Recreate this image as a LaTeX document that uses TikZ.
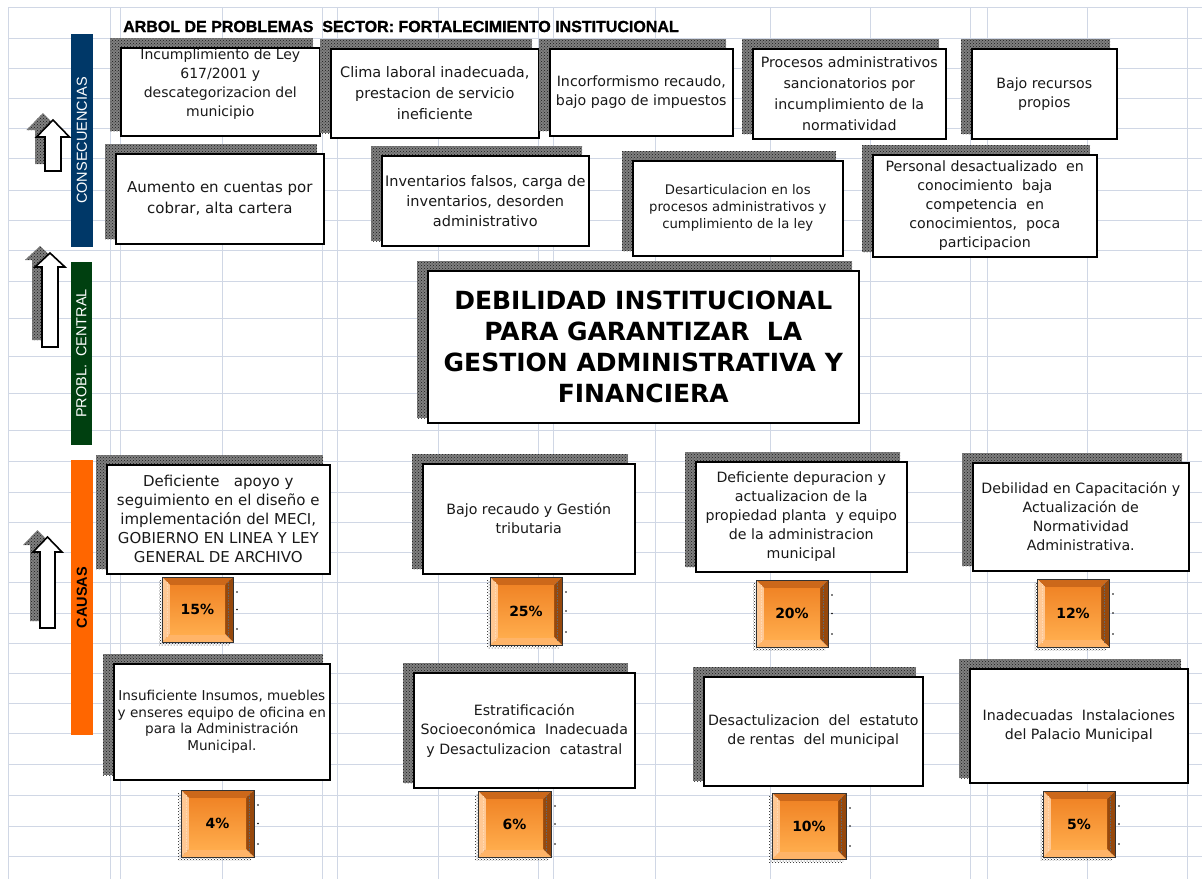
\documentclass[tikz,border=0pt]{standalone}
\usepackage{fontspec}
\setmainfont{DejaVu Sans}
\newfontfamily\arialf{Liberation Sans}
\newfontfamily\titlef{Liberation Sans Bold}[FakeBold=1.2]
\usetikzlibrary{patterns}
\definecolor{gridc}{RGB}{208,215,229}
\definecolor{navy}{RGB}{0,56,104}
\definecolor{dgreen}{RGB}{0,64,16}
\definecolor{causeor}{RGB}{255,102,0}
\definecolor{btop}{RGB}{204,104,26}
\definecolor{bleft}{RGB}{255,200,148}
\definecolor{bright}{RGB}{150,72,12}
\definecolor{bbot}{RGB}{255,180,104}
\definecolor{facetop}{RGB}{240,132,38}
\definecolor{facebot}{RGB}{255,172,76}
\definecolor{txt}{RGB}{25,25,25}
\tikzset{
  shadowbg/.style={fill=black!50},
  shadowdots/.style={pattern=crosshatch dots, pattern color=black!90},
  pb/.style={draw=black, line width=1.6pt, fill=white, inner sep=0pt},
  pbtext/.style={align=center, text=txt, inner sep=0pt, font=\fontsize{14.2}{19}\selectfont},
  pcttext/.style={inner sep=0pt, text=black, font=\bfseries\fontsize{14}{14}\selectfont},
  sidebar/.style={rotate=90, inner sep=0pt, font=\arialf\fontsize{14.5}{15}\selectfont},
  hollow/.style={draw=black, line width=1.6pt, fill=white, line join=miter},
  gridline/.style={gridc, line width=1pt}
}
\newcommand\pbox[7]{%
  \fill[shadowbg] (#2-10,#3-9) rectangle (#4-6,#5-4);
  \fill[shadowdots] (#2-10,#3-9) rectangle (#4-6,#5-4);
  \pgfmathsetmacro\pbw{#4-#2}\pgfmathsetmacro\pbh{#5-#3}
  \node[pb, anchor=north west, minimum width=\pbw pt, minimum height=\pbh pt] (#1) at (#2,#3) {};
  \node[pbtext, #6] (#1-t) at (#1.center) {#7};
}
\newcommand\pctbox[6]{%
  \fill[shadowdots] (#2-3,#3+3) rectangle (#4-3,#5+3);
  \fill[btop] (#2,#3) -- (#4,#3) -- (#4-8,#3+8) -- (#2+8,#3+8) -- cycle;
  \fill[bleft] (#2,#3) -- (#2+8,#3+8) -- (#2+8,#5-8) -- (#2,#5) -- cycle;
  \fill[bright] (#4,#3) -- (#4,#5) -- (#4-8,#5-8) -- (#4-8,#3+8) -- cycle;
  \fill[bbot] (#2,#5) -- (#2+8,#5-8) -- (#4-8,#5-8) -- (#4,#5) -- cycle;
  \shade[top color=facetop, bottom color=facebot] (#2+8,#3+8) rectangle (#4-8,#5-8);
  \draw[white!70!orange, densely dotted, line width=0.6pt] (#2+5,#3+5) -- (#2+5,#5-5);
  \draw[black!60, densely dotted, line width=0.6pt] (#4-5,#3+5) -- (#4-5,#5-5);
  \draw[black!80, line width=0.7pt] (#2,#3) rectangle (#4,#5);
  \fill[black] (#4+4,#3+15) circle (0.9pt) (#4+4,{(#3+#5)/2}) circle (0.9pt) (#4+4,#5-13) circle (0.9pt);
  \node[pcttext] (#1) at ({(#2+#4)/2},{(#3+#5)/2}) {#6};
}
\newcommand\hollowarrow[6]{% tipx tipy headhalf headbaseY shafthalf bottomY
  \begin{scope}[shift={(-10,-7)}]
    \fill[shadowbg] (#1,#2) -- (#1+#3,#4) -- (#1+#5,#4) -- (#1+#5,#6) -- (#1-#5,#6) -- (#1-#5,#4) -- (#1-#3,#4) -- cycle;
    \fill[shadowdots] (#1,#2) -- (#1+#3,#4) -- (#1+#5,#4) -- (#1+#5,#6) -- (#1-#5,#6) -- (#1-#5,#4) -- (#1-#3,#4) -- cycle;
  \end{scope}
  \draw[hollow] (#1,#2) -- (#1+#3,#4) -- (#1+#5,#4) -- (#1+#5,#6) -- (#1-#5,#6) -- (#1-#5,#4) -- (#1-#3,#4) -- cycle;
}
\begin{document}
\begin{tikzpicture}[x=1pt,y=-1pt]
\useasboundingbox (0,0) rectangle (1202,879);
\fill[white] (0,0) rectangle (1202,879);
% grid
\foreach \gy in {7,38,68,98,128,158,190,220,250,281,318,356,393,430,461,492,522,552,582,613,643,673,703,733,764,795,826,856}
  \draw[gridline] (8,\gy) -- (1202,\gy);
\foreach \gx in {8,110,120,222,322,337,438,538,553,655,770,870,970,987,1087,1187}
  \draw[gridline] (\gx,7) -- (\gx,879);
% title
\node[anchor=base west, inner sep=0pt, font=\titlef\fontsize{16}{16}\selectfont] (title) at (123,32) {ARBOL DE PROBLEMAS\ \ SECTOR: FORTALECIMIENTO INSTITUCIONAL};
% side bars
\node[sidebar, fill=navy, text=white, minimum width=213pt, minimum height=22pt] (cons) at (82,140.5) {CONSECUENCIAS};
\node[sidebar, fill=dgreen, text=white, minimum width=183pt, minimum height=21pt] (probl) at (81.5,353.5) {PROBL.\ \ CENTRAL};
\node[sidebar, fill=causeor, text=black, minimum width=275pt, minimum height=22pt, font=\arialf\bfseries\fontsize{14.5}{15}\selectfont] (causas) at (82,597.5) {CAUSAS};
% arrows
\hollowarrow{53}{120}{16.5}{137}{8}{171}
\hollowarrow{50}{253}{15}{267}{8}{347}
\hollowarrow{47.5}{537}{14.5}{552}{7.5}{628}
% consequences row 1
\pbox{a1}{120}{47}{319}{135}{yshift=7.5pt, font=\fontsize{14}{19}\selectfont}{Incumplimiento de Ley\\617/2001 y\\descategorizacion del\\municipio}
\pbox{a2}{330}{48}{538}{137}{font=\fontsize{14.5}{21}\selectfont}{Clima laboral inadecuada,\\prestacion de servicio\\ineficiente}
\pbox{a3}{549}{48}{732}{135}{}{Incorformismo recaudo,\\bajo pago de impuestos}
\pbox{a4}{752}{48}{945}{138}{font=\fontsize{14.2}{21}\selectfont}{Procesos administrativos\\sancionatorios por\\incumplimiento de la\\normatividad}
\pbox{a5}{971}{48}{1116}{138}{}{Bajo recursos\\propios}
% consequences row 2
\pbox{b1}{115}{153}{323}{243}{font=\fontsize{15}{21}\selectfont}{Aumento en cuentas por\\cobrar, alta cartera}
\pbox{b2}{381}{155}{588}{245}{font=\fontsize{14.5}{20}\selectfont}{Inventarios falsos, carga de\\inventarios, desorden\\administrativo}
\pbox{b3}{632}{160}{842}{255}{font=\fontsize{13.2}{17}\selectfont}{Desarticulacion en los\\procesos administrativos y\\cumplimiento de la ley}
\pbox{b4}{872}{154}{1096}{256}{}{Personal desactualizado\ \ en\\conocimiento\ \ baja\\competencia\ \ en\\conocimientos,\ \ poca\\participacion}
% central problem
\pbox{central}{427}{270}{858}{422}{font=\bfseries\fontsize{25}{31}\selectfont, text=black}{DEBILIDAD INSTITUCIONAL\\PARA GARANTIZAR\ \ LA\\GESTION ADMINISTRATIVA Y\\FINANCIERA}
% causes row 1
\pbox{c1}{106}{464}{329}{573}{font=\fontsize{15}{19}\selectfont}{Deficiente\ \ \ apoyo y\\seguimiento en el dise\~no e\\implementaci\'on del MECI,\\GOBIERNO EN LINEA Y LEY\\GENERAL DE ARCHIVO}
\pbox{c2}{422}{463}{634}{573}{}{Bajo recaudo y Gesti\'on\\tributaria}
\pbox{c3}{695}{461}{906}{571}{}{Deficiente depuracion y\\actualizacion de la\\propiedad planta\ \ y equipo\\de la administracion\\municipal}
\pbox{c4}{972}{462}{1188}{570}{}{Debilidad en Capacitaci\'on y\\Actualizaci\'on de\\Normatividad\\Administrativa.}
\pctbox{p15}{162}{577}{233}{642}{15\%}
\pctbox{p25}{490}{577}{562}{645}{25\%}
\pctbox{p20}{756}{580}{828}{647}{20\%}
\pctbox{p12}{1037}{579}{1109}{647}{12\%}
% causes row 2
\pbox{d1}{113}{663}{329}{779}{font=\fontsize{13.6}{16.5}\selectfont}{Insuficiente Insumos, muebles\\y enseres equipo de oficina en\\para la Administraci\'on\\Municipal.}
\pbox{d2}{413}{672}{634}{787}{font=\fontsize{14.2}{19.5}\selectfont}{Estratificaci\'on\\Socioecon\'omica\ \ Inadecuada\\y Desactulizacion\ \ catastral}
\pbox{d3}{703}{676}{922}{785}{}{Desactulizacion\ \ del\ \ estatuto\\de rentas\ \ del municipal}
\pbox{d4}{969}{668}{1187}{782}{}{Inadecuadas\ \ Instalaciones\\del Palacio Municipal}
\pctbox{p4}{181}{790}{254}{857}{4\%}
\pctbox{p6}{478}{791}{551}{857}{6\%}
\pctbox{p10}{772}{793}{846}{859}{10\%}
\pctbox{p5}{1043}{791}{1115}{857}{5\%}
\end{tikzpicture}
\end{document}
